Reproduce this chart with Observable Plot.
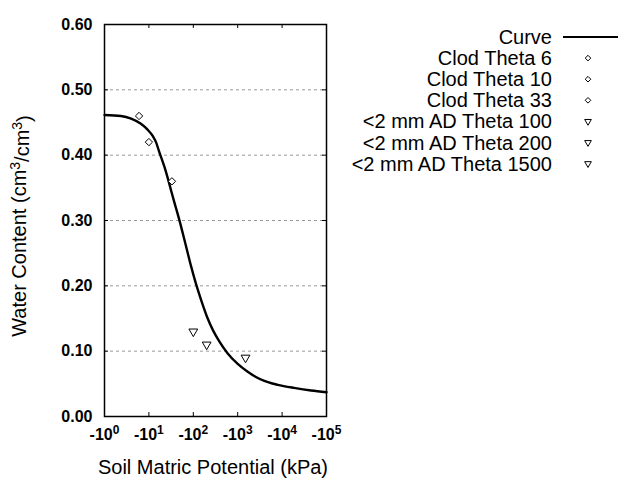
<!DOCTYPE html>
<html><head><meta charset="utf-8">
<script src="https://cdn.jsdelivr.net/npm/d3@7"></script>
<script src="https://cdn.jsdelivr.net/npm/@observablehq/plot@0.6"></script>
<style>
body{margin:0;background:#fff}
#chart{position:relative;width:640px;height:480px}
</style>
</head><body><div id="chart"></div>
<script>
// Fitted curve (potential in -kPa, water content cm3/cm3)
const curvePotential = [1, 2.34, 3.98, 6.61, 9.33, 12.3, 14.45, 17.1, 22.4, 26.3, 31.6, 37.2, 48.4, 68.4, 88.7, 115, 149, 211, 282, 385, 596, 1000, 1680, 2570, 3980, 6030, 7940, 18500, 44800, 100000];
const curveTheta = [0.4615, 0.460, 0.456, 0.448, 0.439, 0.429, 0.420, 0.405, 0.382, 0.366, 0.346, 0.3285, 0.301, 0.261, 0.2305, 0.203, 0.179, 0.150, 0.131, 0.115, 0.0965, 0.0805, 0.0685, 0.0605, 0.0545, 0.0505, 0.0485, 0.0438, 0.0398, 0.0372];
// Observations
const obsLabels = ["Clod Theta 6", "Clod Theta 10", "Clod Theta 33", "<2 mm AD Theta 100", "<2 mm AD Theta 200", "<2 mm AD Theta 1500"];
const obsPotential = [6, 10, 33, 100, 200, 1500];
const obsTheta = [0.46, 0.42, 0.36, 0.13, 0.11, 0.09];
const obsKind = ["clod", "clod", "clod", "ad", "ad", "ad"];
// Axes
const xTicks = [1, 10, 100, 1000, 10000, 100000];
const xExponents = ["0", "1", "2", "3", "4", "5"];
const yTicks = [0, 0.1, 0.2, 0.3, 0.4, 0.5, 0.6];
const gridTicks = [0.1, 0.2, 0.3, 0.4, 0.5];
const xTitle = "Soil Matric Potential (kPa)";
const legendCurve = "Curve";

const curve = curvePotential.map((x, i) => ({x, y: curveTheta[i]}));
const obs = obsPotential.map((x, i) => ({x, y: obsTheta[i], kind: obsKind[i], label: obsLabels[i]}));

const FONT = "'Liberation Sans', Arial, Helvetica, sans-serif";
const frameH = 480 - 24 - 64, frameW = 640 - 104 - 314, TICK = 4;

const plot = Plot.plot({
  width: 640, height: 480,
  marginLeft: 104, marginRight: 314, marginTop: 24, marginBottom: 64,
  style: {fontFamily: FONT, fontSize: "16px", fontWeight: "bold", background: "white", color: "black", overflow: "visible"},
  x: {type: "log", domain: [1, 1e5], ticks: xTicks, tickSize: 0, tickPadding: 12, tickFormat: () => "-10", label: null, axis: "bottom"},
  y: {domain: [0, 0.6], ticks: yTicks, tickSize: 0, tickPadding: 12, tickFormat: d3.format(".2f"), label: null, axis: "left"},
  marks: [
    Plot.ruleY(gridTicks, {stroke: "#999", strokeDasharray: "3,3", strokeWidth: 1}),
    Plot.tickX(xTicks, {x: d => d, insetTop: frameH - TICK, stroke: "black"}),
    Plot.tickX(xTicks, {x: d => d, insetBottom: frameH - TICK, stroke: "black"}),
    Plot.tickY(yTicks, {y: d => d, insetRight: frameW - TICK, stroke: "black"}),
    Plot.tickY(yTicks, {y: d => d, insetLeft: frameW - TICK, stroke: "black"}),
    Plot.line(curve, {x: "x", y: "y", stroke: "black", strokeWidth: 2.4, curve: "monotone-x"}),
    Plot.dot(obs.filter(d => d.kind === "clod"), {x: "x", y: "y", symbol: "diamond2", r: 3.3, stroke: "black", strokeWidth: 1, fill: "white"}),
    Plot.dot(obs.filter(d => d.kind === "ad"), {x: "x", y: "y", symbol: "triangle2", rotate: 180, r: 4.2, stroke: "black", strokeWidth: 1, fill: "white"}),
    Plot.frame({stroke: "black", strokeWidth: 1.5})
  ]
});
document.getElementById("chart").appendChild(plot);

const svg = d3.select(plot);
// superscript exponents on x tick labels (in tick order)
const xLabelNodes = svg.selectAll("text").filter(function() { return this.textContent === "-10"; }).nodes();
xLabelNodes.forEach((node, k) => {
  const t = d3.select(node);
  t.text(null);
  t.append("tspan").text("-10");
  t.append("tspan").attr("dy", "-0.45em").attr("font-size", "12px").text(xExponents[k]);
});

// axis titles
svg.append("text")
  .attr("x", 213).attr("y", 474)
  .attr("text-anchor", "middle")
  .attr("font-family", FONT).attr("font-size", 20).attr("font-weight", "normal").attr("fill", "black")
  .text(xTitle);

const yt = svg.append("text")
  .attr("transform", "translate(26,226) rotate(-90)")
  .attr("text-anchor", "middle")
  .attr("font-family", FONT).attr("font-size", 20).attr("font-weight", "normal").attr("fill", "black");
yt.append("tspan").text("Water Content (cm");
yt.append("tspan").attr("dy", "-0.45em").attr("font-size", "14px").text("3");
yt.append("tspan").attr("dy", "0.45em").text("/cm");
yt.append("tspan").attr("dy", "-0.45em").attr("font-size", "14px").text("3");
yt.append("tspan").attr("dy", "0.45em").text(")");

// legend
const lg = svg.append("g").attr("font-family", FONT).attr("font-size", 20).attr("font-weight", "normal").attr("fill", "black");
const rowY = i => 37 + i * 21.1;
lg.append("text").attr("x", 552).attr("y", rowY(0)).attr("dy", "0.35em").attr("text-anchor", "end").text(legendCurve);
lg.append("line").attr("x1", 563).attr("x2", 618).attr("y1", rowY(0)).attr("y2", rowY(0)).attr("stroke", "black").attr("stroke-width", 2);
obs.forEach((d, i) => {
  const y = rowY(i + 1);
  lg.append("text").attr("x", 552).attr("y", y).attr("dy", "0.35em").attr("text-anchor", "end").text(d.label);
  const sym = d.kind === "clod" ? d3.symbol(d3.symbolDiamond2, 20) : d3.symbol(d3.symbolTriangle2, 32);
  lg.append("path").attr("d", sym())
    .attr("transform", `translate(588,${y})` + (d.kind === "ad" ? " rotate(180)" : ""))
    .attr("fill", "white").attr("stroke", "black").attr("stroke-width", 1);
});
</script>
</body></html>
